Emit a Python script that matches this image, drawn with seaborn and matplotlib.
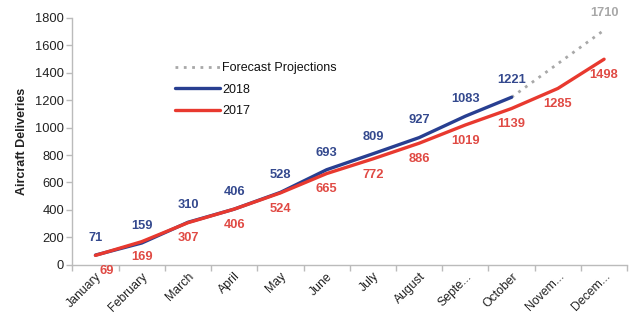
import matplotlib
matplotlib.use("Agg")
import matplotlib.pyplot as plt
import seaborn as sns
import pandas as pd
import numpy as np

months = ["January", "February", "March", "April", "May", "June", "July",
          "August", "Septe...", "October", "Novem...", "Decem..."]
deliveries_2018 = [71, 159, 310, 406, 528, 693, 809, 927, 1083, 1221, np.nan, np.nan]
deliveries_2017 = [69, 169, 307, 406, 524, 665, 772, 886, 1019, 1139, 1285, 1498]
forecast = [np.nan] * 9 + [1221, np.nan, 1710]

sns.set_theme(style="white")
plt.rcParams['font.family'] = ['Liberation Sans', 'DejaVu Sans']

df = pd.DataFrame({"x": np.arange(len(months)),
                   "2018": deliveries_2018, "2017": deliveries_2017,
                   "Forecast Projections": forecast})

fig, ax = plt.subplots(figsize=(6.4, 3.23), dpi=100)
fig.subplots_adjust(left=0.113, right=0.98, top=0.945, bottom=0.18)

blue = "#283F91"
red = "#E8392F"
grey = "#A8A8A8"

sns.lineplot(data=df, x="x", y="Forecast Projections", ax=ax, color=grey,
             linestyle=(0, (1, 2.0)), linewidth=2, label="Forecast Projections")
sns.lineplot(data=df, x="x", y="2018", ax=ax, color=blue, linewidth=2.4, label="2018")
sns.lineplot(data=df, x="x", y="2017", ax=ax, color=red, linewidth=2.4, label="2017")

fs = 9.3
for i, v in enumerate(deliveries_2018):
    if not np.isnan(v):
        ax.annotate(f"{v:.0f}", (i, v), xytext=(0, 8), textcoords="offset points",
                    ha="center", va="bottom", color="#34498E", fontsize=fs, fontweight="bold")
for i, v in enumerate(deliveries_2017):
    dx = 8 if i == 0 else 0
    ax.annotate(f"{v}", (i, v), xytext=(dx, -7), textcoords="offset points",
                ha="center", va="top", color="#E04A44", fontsize=fs, fontweight="bold")
ax.annotate("1710", (11, 1710), xytext=(0, 8), textcoords="offset points",
            ha="center", va="bottom", color=grey, fontsize=fs, fontweight="bold")

ax.set_xlim(-0.5, 11.5)
ax.set_ylim(0, 1800)
ax.set_yticks(range(0, 1801, 200))
ax.set_xticks(np.arange(len(months)))
ax.set_xticklabels(months, rotation=45, ha="right", rotation_mode="anchor", fontsize=8.8, color="#222222")
ax.set_xticks(np.arange(-0.5, 12, 1), minor=True)
ax.tick_params(axis="x", which="major", length=0, pad=4)
ax.tick_params(axis="x", which="minor", length=4, color="#BBBBBB", width=1, direction="out")
ax.tick_params(axis="y", length=4, color="#BBBBBB", width=1, direction="out", labelsize=9.3, labelcolor="#222222", pad=2)
ax.yaxis.set_tick_params(left=True)
ax.xaxis.set_tick_params(which="minor", bottom=True)

ax.set_xlabel("")
ax.set_ylabel("Aircraft Deliveries", fontsize=9, fontweight="bold", color="#222222", labelpad=5)

for s in ["top", "right"]:
    ax.spines[s].set_visible(False)
for s in ["left", "bottom"]:
    ax.spines[s].set_color("#BBBBBB")
    ax.spines[s].set_linewidth(1)

leg = ax.legend(loc="upper left", bbox_to_anchor=(0.165, 0.865), frameon=False,
                fontsize=9, handlelength=3.6, handletextpad=0.15, labelspacing=0.75)
for t in leg.get_texts():
    t.set_color("#111111")

fig.savefig("out.png", dpi=100)
